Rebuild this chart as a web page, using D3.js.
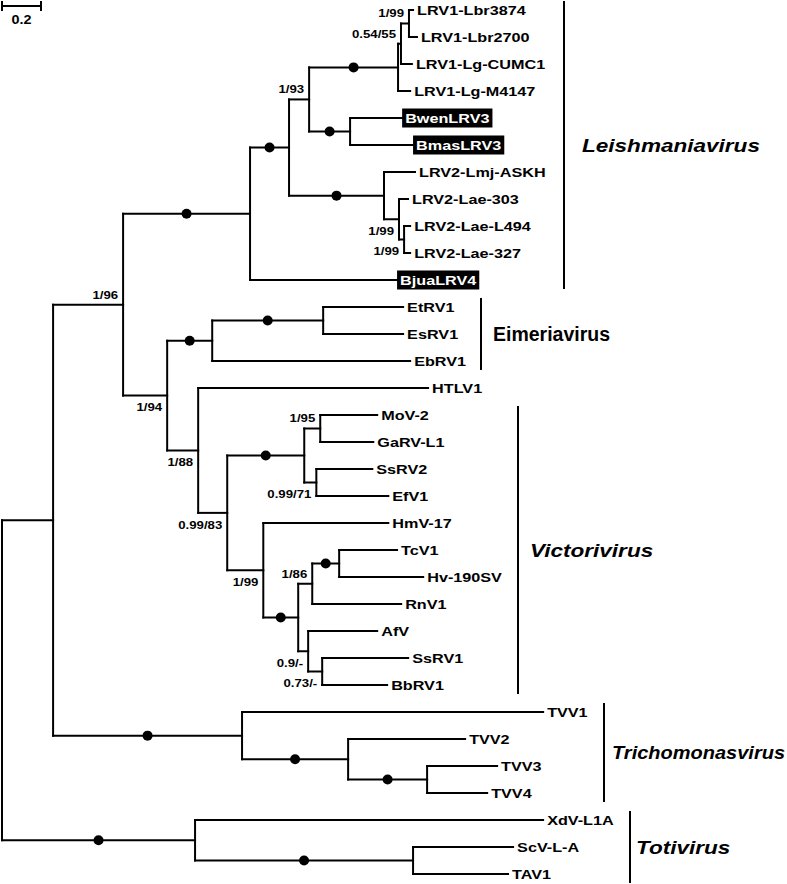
<!DOCTYPE html>
<html><head><meta charset="utf-8">
<script src="https://cdn.jsdelivr.net/npm/d3@7"></script>
<style>
body{margin:0;background:#fff}
svg{display:block}
text{font-family:"Liberation Sans",Arial,Helvetica,sans-serif;font-weight:bold}
</style>
</head><body>
<svg id="c" width="787" height="884"></svg>
<script>
// ---------- DATA ----------
// [node, parent, branch length (subst./site)] in preorder (child order = drawing order)
const edges = [
  ["root", null, 0],
  ["n53", "root", 0.262],
  ["n123", "n53", 0.359],
  ["leish", "n123", 0.651],
  ["nA", "leish", 0.200],
  ["n93", "nA", 0.103],
  ["lrv1", "n93", 0.456],
  ["n5455", "lrv1", 0.015],
  ["n199a", "n5455", 0.041],
  ["LRV1-Lbr3874", "n199a", 0.021],
  ["LRV1-Lbr2700", "n199a", 0.041],
  ["LRV1-Lg-CUMC1", "n5455", 0.056],
  ["LRV1-Lg-M4147", "lrv1", 0.062],
  ["lrv3", "n93", 0.210],
  ["BwenLRV3", "lrv3", 0.267],
  ["BmasLRV3", "lrv3", 0.323],
  ["lrv2", "nA", 0.487],
  ["LRV2-Lmj-ASKH", "lrv2", 0.159],
  ["lae", "lrv2", 0.077],
  ["LRV2-Lae-303", "lae", 0.046],
  ["n199b", "lae", 0.026],
  ["LRV2-Lae-L494", "n199b", 0.031],
  ["LRV2-Lae-327", "n199b", 0.031],
  ["BjuaLRV4", "leish", 0.754],
  ["n194", "n123", 0.226],
  ["eim", "n194", 0.231],
  ["eim2", "eim", 0.569],
  ["EtRV1", "eim2", 0.410],
  ["EsRV1", "eim2", 0.410],
  ["EbRV1", "eim", 1.015],
  ["n188", "n194", 0.159],
  ["HTLV1", "n188", 1.179],
  ["n9983", "n188", 0.149],
  ["vicA", "n9983", 0.395],
  ["n195", "vicA", 0.082],
  ["MoV-2", "n195", 0.292],
  ["GaRV-L1", "n195", 0.272],
  ["n9971", "vicA", 0.062],
  ["SsRV2", "n9971", 0.287],
  ["EfV1", "n9971", 0.369],
  ["n199c", "n9983", 0.185],
  ["HmV-17", "n199c", 0.641],
  ["vicB", "n199c", 0.179],
  ["n186", "vicB", 0.072],
  ["tchv", "n186", 0.138],
  ["TcV1", "tchv", 0.297],
  ["Hv-190SV", "tchv", 0.431],
  ["RnV1", "n186", 0.456],
  ["n09", "vicB", 0.051],
  ["AfV", "n09", 0.354],
  ["n073", "n09", 0.072],
  ["SsRV1", "n073", 0.441],
  ["BbRV1", "n073", 0.333],
  ["tvv", "n53", 0.969],
  ["TVV1", "tvv", 1.544],
  ["tvv2", "tvv", 0.544],
  ["TVV2", "tvv2", 0.600],
  ["tvv34", "tvv2", 0.405],
  ["TVV3", "tvv34", 0.359],
  ["TVV4", "tvv34", 0.308],
  ["toti", "root", 0.990],
  ["XdV-L1A", "toti", 1.785],
  ["scv", "toti", 1.118],
  ["ScV-L-A", "scv", 0.513],
  ["TAV1", "scv", 0.487]
];
// branches with full support (drawn with a black dot)
const fullSupport = ["leish","nA","lrv1","lrv3","lrv2","eim","eim2","vicA","vicB","tchv","tvv","tvv2","tvv34","toti","scv"];
// node support labels: [node, label, placement]
const supports = [
  ["n199a","1/99","above"], ["n5455","0.54/55","above"], ["n93","1/93","above"],
  ["lae","1/99","below"], ["n199b","1/99","below"], ["n123","1/96","above"],
  ["n194","1/94","below"], ["n188","1/88","below"], ["n9983","0.99/83","below"],
  ["n195","1/95","above"], ["n9971","0.99/71","below"], ["n199c","1/99","below"],
  ["n186","1/86","above"], ["n09","0.9/-","below"], ["n073","0.73/-","below"]
];
const highlighted = ["BwenLRV3","BmasLRV3","BjuaLRV4"];
const clades = [
  ["Leishmaniavirus","LRV1-Lbr3874","BjuaLRV4",true],
  ["Eimeriavirus","EtRV1","EbRV1",false],
  ["Victorivirus","MoV-2","BbRV1",true],
  ["Trichomonasvirus","TVV1","TVV4",true],
  ["Totivirus","XdV-L1A","TAV1",true]
];
const scaleBarValue = 0.2;

// ---------- LAYOUT (positions/styles) ----------
const cladeLayout = {
  "Leishmaniavirus":{bx:564, lx:582},
  "Eimeriavirus":{bx:481, lx:493},
  "Victorivirus":{bx:518, lx:530},
  "Trichomonasvirus":{bx:604, lx:612},
  "Totivirus":{bx:630, lx:636}
};
const SX = 1.2;          // horizontal text stretch of the original figure
const LW = 2;
const W = 787;

const svg = d3.select("#c");
const root = d3.stratify().id(d=>d[0]).parentId(d=>d[1])(edges);
root.eachBefore(n => { n.dist = (n.parent ? n.parent.dist : 0) + n.data[2]; });
const leaves = root.leaves();

const x = d3.scaleLinear().domain([0, 1]).range([2, 197]);
const y = d3.scalePoint().domain(leaves.map(d=>d.id)).range([10, 874]);

root.eachAfter(n => {
  if (!n.children) n.y = y(n.id);
  else n.y = (n.children[0].y + n.children[n.children.length-1].y)/2;
  n.x = x(n.dist);
});

const g = svg.append("g");
const lines = g.append("g").attr("stroke","#000").attr("stroke-width",LW).attr("stroke-linecap","square").attr("fill","none");

root.descendants().filter(n=>n.parent).forEach(n=>{
  lines.append("line").attr("x1",n.parent.x).attr("x2",n.x).attr("y1",n.y).attr("y2",n.y);
});
root.descendants().filter(n=>n.children).forEach(n=>{
  lines.append("line").attr("x1",n.x).attr("x2",n.x)
    .attr("y1",n.children[0].y).attr("y2",n.children[n.children.length-1].y);
});
const byId = new Map(root.descendants().map(n=>[n.id,n]));
fullSupport.forEach(id=>{
  const n = byId.get(id);
  g.append("circle").attr("cx",(n.parent.x+n.x)/2).attr("cy",n.y).attr("r",5).attr("fill","#000");
});

function txt(parent, tx, ty, s, size, anchor, italic, fill, sx){
  return parent.append("text")
    .attr("transform",`translate(${tx},${ty}) scale(${sx||SX},1)`)
    .attr("dy","0.35em")
    .attr("font-size",size)
    .attr("text-anchor",anchor||"start")
    .attr("font-style",italic?"italic":"normal")
    .attr("fill",fill||"#000")
    .text(s);
}

leaves.forEach(n=>{
  if (highlighted.includes(n.id)) {
    const bg = g.append("rect");
    const t = txt(g, n.x+3, n.y, n.id, 13.5, "start", false, "#fff");
    const w = t.node().getComputedTextLength()*SX;
    bg.attr("x",n.x).attr("y",n.y-9.5).attr("width",w+6).attr("height",19).attr("fill","#000");
  } else {
    txt(g, n.x+4, n.y, n.id, 13.5, "start", false);
  }
});

supports.forEach(([id,lab,pos])=>{
  const n = byId.get(id);
  txt(g, n.x-5, pos==="above" ? n.y-10 : n.y+12, lab, 11, "end", false);
});

clades.forEach(([name,a,b,it])=>{
  const L = cladeLayout[name];
  const y0 = y(a)-9, y1 = y(b)+9;
  g.append("line").attr("x1",L.bx).attr("x2",L.bx).attr("y1",Math.max(0,y0)).attr("y2",y1)
    .attr("stroke","#000").attr("stroke-width",LW);
  const size = it ? 18.8 : 19.5;
  let sx = it ? 1.2 : 1.0;
  const t = txt(g, L.lx, (y0+y1)/2, name, size, "start", it, "#000", sx);
  const w = t.node().getComputedTextLength();
  if (L.lx + w*sx > W - 2) {
    sx = (W - 2 - L.lx) / w;
    t.attr("transform",`translate(${L.lx},${(y0+y1)/2}) scale(${sx},1)`);
  }
});

const sb = g.append("g").attr("stroke","#000").attr("stroke-width",LW);
sb.append("line").attr("x1",x(0)).attr("x2",x(scaleBarValue)).attr("y1",6).attr("y2",6);
sb.append("line").attr("x1",x(0)).attr("x2",x(0)).attr("y1",1).attr("y2",11);
sb.append("line").attr("x1",x(scaleBarValue)).attr("x2",x(scaleBarValue)).attr("y1",1).attr("y2",11);
txt(g, (x(0)+x(scaleBarValue))/2, 20, String(scaleBarValue), 12, "middle", false);
</script>
</body></html>
